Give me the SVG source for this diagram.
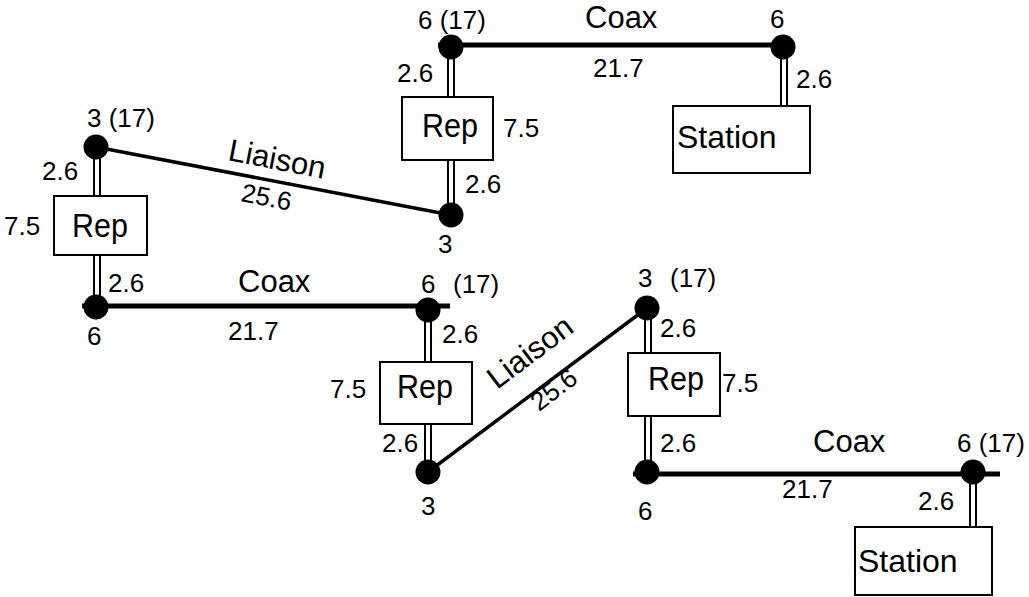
<svg xmlns="http://www.w3.org/2000/svg" width="1029" height="597" viewBox="0 0 1029 597">
<style>
.bg{fill:#ffffff}
.box{fill:#ffffff;stroke:#000000;stroke-width:2}
.dot{fill:#000000}
.coax{stroke:#000000;stroke-width:5;fill:none}
.liaison{stroke:#000000;stroke-width:3.5;fill:none}
.dbl-out{stroke:#000000;stroke-width:8;fill:none}
.dbl-in{stroke:#ffffff;stroke-width:4;fill:none}
text{font-family:"Liberation Sans",Arial,sans-serif;fill:#000000}
.num{font-size:26px}
.word{font-size:31px}
.rep{font-size:33px}
.stn{font-size:32px}
</style>
<rect class="bg" x="0" y="0" width="1029" height="597"/>

<g id="connectors">
  <line class="coax" x1="438" y1="45" x2="795" y2="45"/>
  <line class="coax" x1="82" y1="306" x2="450" y2="306"/>
  <line class="coax" x1="633" y1="474" x2="1000" y2="474"/>
  <line class="liaison" x1="96" y1="147" x2="451" y2="215"/>
  <line class="liaison" x1="428" y1="472" x2="647" y2="308"/>
  <g id="double-lines">
    <path class="dbl-out" d="M451,47V97 M451,159V215 M784,47V106 M97,147V196 M97,255V307 M428,310V362 M428,424V472 M648,308V353 M648,416V473 M973,472V527"/>
    <path class="dbl-in" d="M451,59V97 M451,159V203 M784,59V106 M97,159V196 M97,255V295 M428,322V362 M428,424V460 M648,320V353 M648,416V461 M973,484V527"/>
  </g>
  <text class="word" x="585" y="28">Coax</text>
  <text class="num" x="593" y="77">21.7</text>
  <text class="word" x="238" y="292">Coax</text>
  <text class="num" x="228" y="340">21.7</text>
  <text class="word" x="813" y="452">Coax</text>
  <text class="num" x="782" y="498">21.7</text>
  <text class="word" transform="translate(227,160) rotate(11)">Liaison</text>
  <text class="num" transform="translate(240,201) rotate(11)">25.6</text>
  <text class="word" transform="translate(497,390) rotate(-37)">Liaison</text>
  <text class="num" transform="translate(539,412) rotate(-37)">25.6</text>
  <text class="num" x="397" y="82">2.6</text>
  <text class="num" x="465" y="193">2.6</text>
  <text class="num" x="796" y="88">2.6</text>
  <text class="num" x="42" y="180">2.6</text>
  <text class="num" x="108" y="292">2.6</text>
  <text class="num" x="442" y="343">2.6</text>
  <text class="num" x="382" y="452">2.6</text>
  <text class="num" x="660" y="337">2.6</text>
  <text class="num" x="660" y="452">2.6</text>
  <text class="num" x="918" y="510">2.6</text>
</g>

<g id="node-top-left-dot">
  <circle class="dot" cx="451" cy="47" r="12.5"/>
  <text class="num" x="418" y="29">6 (17)</text>
</g>
<g id="node-rep-top">
  <rect class="box" x="402" y="97" width="91" height="63"/>
  <text class="rep" x="422" y="137" textLength="56" lengthAdjust="spacingAndGlyphs">Rep</text>
  <text class="num" x="503" y="137">7.5</text>
</g>
<g id="node-top-bottom-dot">
  <circle class="dot" cx="451" cy="215" r="12.5"/>
  <text class="num" x="438" y="253">3</text>
</g>
<g id="node-top-right-dot">
  <circle class="dot" cx="783" cy="47" r="12.5"/>
  <text class="num" x="770" y="28">6</text>
</g>
<g id="node-station-top">
  <rect class="box" x="673" y="106" width="137" height="67"/>
  <text class="stn" x="677" y="148">Station</text>
</g>

<g id="node-left-top-dot">
  <circle class="dot" cx="96" cy="147" r="12.5"/>
  <text class="num" x="87" y="127">3 (17)</text>
</g>
<g id="node-rep-left">
  <rect class="box" x="54" y="196" width="93" height="59"/>
  <text class="rep" x="72" y="237" textLength="56" lengthAdjust="spacingAndGlyphs">Rep</text>
  <text class="num" x="4" y="235">7.5</text>
</g>
<g id="node-left-bottom-dot">
  <circle class="dot" cx="96" cy="307" r="12.5"/>
  <text class="num" x="87" y="345">6</text>
</g>

<g id="node-mid-top-dot">
  <circle class="dot" cx="428" cy="310" r="12.5"/>
  <text class="num" x="421" y="293">6</text>
  <text class="num" x="453" y="293">(17)</text>
</g>
<g id="node-rep-mid">
  <rect class="box" x="380" y="362" width="92" height="62"/>
  <text class="rep" x="397" y="398" textLength="56" lengthAdjust="spacingAndGlyphs">Rep</text>
  <text class="num" x="330" y="398">7.5</text>
</g>
<g id="node-mid-bottom-dot">
  <circle class="dot" cx="428" cy="472" r="12.5"/>
  <text class="num" x="421" y="515">3</text>
</g>

<g id="node-right-top-dot">
  <circle class="dot" cx="647" cy="308" r="12.5"/>
  <text class="num" x="638" y="287">3</text>
  <text class="num" x="670" y="287">(17)</text>
</g>
<g id="node-rep-right">
  <rect class="box" x="628" y="353" width="92" height="63"/>
  <text class="rep" x="648" y="390" textLength="56" lengthAdjust="spacingAndGlyphs">Rep</text>
  <text class="num" x="722" y="392">7.5</text>
</g>
<g id="node-right-bottom-dot">
  <circle class="dot" cx="647" cy="472" r="12.5"/>
  <text class="num" x="638" y="520">6</text>
</g>

<g id="node-far-right-dot">
  <circle class="dot" cx="973" cy="472" r="12.5"/>
  <text class="num" x="957" y="452">6 (17)</text>
</g>
<g id="node-station-bottom">
  <rect class="box" x="855" y="527" width="137" height="68"/>
  <text class="stn" x="858" y="572">Station</text>
</g>
</svg>
